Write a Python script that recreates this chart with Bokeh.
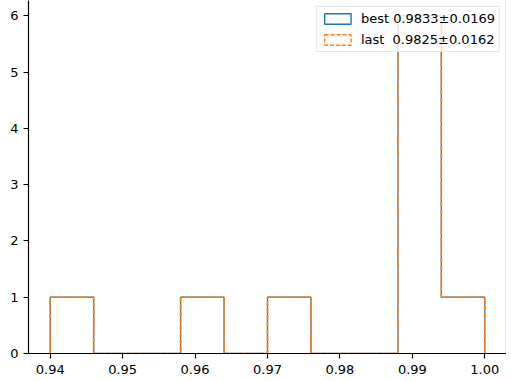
from bokeh.plotting import figure
from bokeh.embed import file_html
from bokeh.resources import INLINE
from bokeh.models import (Range1d, FixedTicker, LinearAxis, Legend, LegendItem,
                          NumeralTickFormatter)

# ---- data ----
bin_edges = [0.940, 0.946, 0.952, 0.958, 0.964, 0.970, 0.976, 0.982, 0.988, 0.994, 1.000]
best_counts = [1, 0, 0, 1, 0, 1, 0, 0, 6, 1]
last_counts = [1, 0, 0, 1, 0, 1, 0, 0, 6, 1]
series_labels = ["best 0.9833\u00b10.0169", "last  0.9825\u00b10.0162"]
x_ticks = [0.94, 0.95, 0.96, 0.97, 0.98, 0.99, 1.00]
y_ticks = [0, 1, 2, 3, 4, 5, 6]

C0 = "#1f77b4"
C1 = "#ff7f0e"
FONT = "DejaVu Sans"
DASH = "5 2"
NAN = float("nan")

p = figure(frame_width=478, frame_height=353,
           x_range=Range1d(0.937, 1.003), y_range=Range1d(0, 6.27),
           output_backend="svg", toolbar_location=None,
           min_border_left=28, min_border_right=0, min_border_top=0, min_border_bottom=0)
p.outline_line_color = None
p.xgrid.visible = False
p.ygrid.visible = False
p.background_fill_color = "white"


def step_pts(edges, counts):
    xs = [edges[0]] + list(edges)
    ys = [0] + list(counts) + [0]
    return xs, ys


xb, yb = step_pts(bin_edges, best_counts)
xl, yl = step_pts(bin_edges, last_counts)
p.step(xb, yb, mode="after", line_color=C0, line_width=1.3)
p.step(xl, yl, mode="after", line_color=C1, line_width=1.7, line_dash=DASH)

# legend proxies: outlined patches with no drawable geometry (NaN)
q_best = p.quad(left=[NAN], right=[NAN], bottom=[NAN], top=[NAN],
                fill_color=None, line_color=C0, line_width=1.4)
q_last = p.quad(left=[NAN], right=[NAN], bottom=[NAN], top=[NAN],
                fill_color=None, line_color=C1, line_width=1.4, line_dash="4 2")

legend = Legend(items=[LegendItem(label=series_labels[0], renderers=[q_best]),
                       LegendItem(label=series_labels[1], renderers=[q_last])],
                location="top_right", margin=6, padding=4, spacing=6,
                glyph_width=33, glyph_height=13, label_standoff=7,
                label_text_font=FONT, label_text_font_size="13px",
                label_text_color="black", label_height=14,
                background_fill_color="white", background_fill_alpha=0.8,
                border_line_color="#d0d0d0", border_line_width=1)
p.add_layout(legend, "center")

for ax in (p.xaxis, p.yaxis):
    ax.axis_line_color = "black"
    ax.axis_line_width = 1.2
    ax.major_tick_line_color = "black"
    ax.major_tick_line_width = 1.2
    ax.major_tick_out = 5
    ax.major_tick_in = 0
    ax.minor_tick_line_color = None
    ax.major_label_text_font = FONT
    ax.major_label_text_font_size = "13px"
    ax.major_label_text_color = "black"

p.xaxis.major_label_standoff = 6
p.yaxis.major_label_standoff = 5
p.xaxis.ticker = FixedTicker(ticks=x_ticks)
p.xaxis.formatter = NumeralTickFormatter(format="0.00")
p.yaxis.ticker = FixedTicker(ticks=y_ticks)
p.yaxis.formatter = NumeralTickFormatter(format="0")

right_spine = LinearAxis(ticker=FixedTicker(ticks=[]), axis_line_color="black",
                         axis_line_width=1.2, major_tick_line_color=None,
                         minor_tick_line_color=None, major_label_text_font_size="0px")
p.add_layout(right_spine, "right")

open("out.html", "w").write(file_html(p, INLINE))
